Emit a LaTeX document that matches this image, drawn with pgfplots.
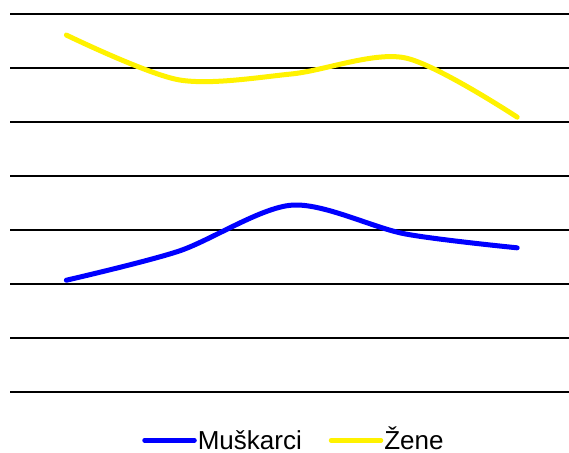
\documentclass[border=0pt]{standalone}
\usepackage{pgfplots}
\pgfplotsset{compat=1.18}
\usepackage{fontspec}
\setmainfont{Liberation Sans}
\begin{document}
\begin{tikzpicture}
\path[use as bounding box] (0,0) rectangle (569bp,453bp);
\begin{axis}[
  at={(10bp,61bp)}, anchor=south west,
  scale only axis, width=559bp, height=378bp,
  xmin=-0.5, xmax=4.46, ymin=0, ymax=70,
  axis line style={draw=none},
  xtick=\empty,
  ytick={0,10,...,70}, yticklabels={},
  major tick length=0pt,
  ymajorgrids, grid style={black, line width=1.6bp},
  clip=false,
  legend columns=2,
  legend style={draw=none, at={(0.507,-0.128)}, anchor=center,
    font=\fontsize{26bp}{28bp}\selectfont, inner sep=0pt,
    nodes={text height=18.5bp, text depth=0.5bp, inner sep=1bp},
    /tikz/every odd column/.append style={column sep=0bp},
    /tikz/every even column/.append style={column sep=0bp}},
  legend image code/.code={\draw[#1, line width=4.5bp, line cap=round] (0bp,0bp) -- (50bp,0bp);},
]
\addplot[blue, line width=5bp, line cap=round, smooth, tension=0.5] coordinates {
  (0,20.7) (1,26.1) (2,34.6) (3,29.3) (4,26.7)};
\addlegendentry{Muškarci\rule{26bp}{0pt}}
\addplot[yellow, line width=5bp, line cap=round, smooth, tension=0.5] coordinates {
  (0,66.1) (1,57.8) (2,58.9) (3,61.9) (4,50.9)};
\addlegendentry{Žene}
\end{axis}
\end{tikzpicture}
\end{document}
